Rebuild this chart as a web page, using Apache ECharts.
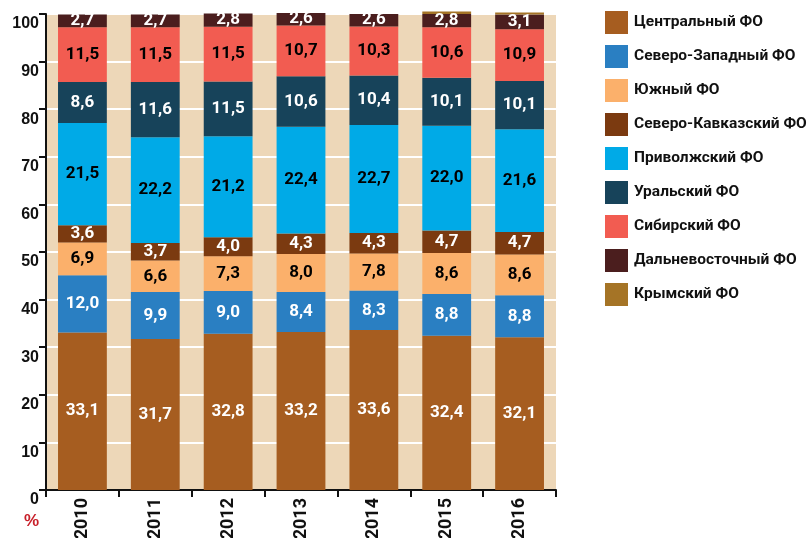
<!DOCTYPE html>
<html><head><meta charset="utf-8">
<script src="https://cdn.jsdelivr.net/npm/echarts@6/dist/echarts.min.js"></script>
<style>html,body{margin:0;padding:0;background:#fff}#c{width:811px;height:538px}</style>
</head><body><div id="c"></div>
<script>
const years = ['2010','2011','2012','2013','2014','2015','2016'];
const yTicks = [0,10,20,30,40,50,60,70,80,90,100];
const names = ['Центральный ФО','Северо-Западный ФО','Южный ФО','Северо-Кавказский ФО','Приволжский ФО','Уральский ФО','Сибирский ФО','Дальневосточный ФО','Крымский ФО'];
const central   = [33.1,31.7,32.8,33.2,33.6,32.4,32.1];
const northwest = [12.0,9.9,9.0,8.4,8.3,8.8,8.8];
const south     = [6.9,6.6,7.3,8.0,7.8,8.6,8.6];
const ncaucasus = [3.6,3.7,4.0,4.3,4.3,4.7,4.7];
const volga     = [21.5,22.2,21.2,22.4,22.7,22.0,21.6];
const ural      = [8.6,11.6,11.5,10.6,10.4,10.1,10.1];
const siberia   = [11.5,11.5,11.5,10.7,10.3,10.6,10.9];
const fareast   = [2.7,2.7,2.8,2.6,2.6,2.8,3.1];
const crimea    = [0,0,0,0,0,0.5,0.4];
const seriesData = [central,northwest,south,ncaucasus,volga,ural,siberia,fareast,crimea];
const colors = ['#A65D20','#2A7FC2','#FBB06B','#7B3A10','#00AAE7','#17435A','#F25C51','#4B1E1E','#A57426'];
const labelColors = ['#fff','#fff','#000','#fff','#000','#fff','#000','#fff','#fff'];
const NARROW = 'Roboto,"DejaVu Sans Condensed",sans-serif';

const chart = echarts.init(document.getElementById('c'), null, {renderer:'canvas'});
const series = names.map((n,i)=>({
  name:n, type:'bar', stack:'a', barWidth:'67%', clip:false,
  itemStyle:{color:colors[i]},
  data:seriesData[i],
  label:{show:i<8, position:'inside', color:labelColors[i],
    fontFamily:NARROW, fontWeight:'bold', fontSize:17,
    formatter:p=>p.value.toFixed(1).replace('.',',')}
}));
chart.setOption({
  animation:false,
  grid:{left:46,right:255,top:14,bottom:48,show:true,backgroundColor:'#EDD7B8',borderWidth:0,
    containLabel:false,outerBoundsMode:'none'},
  legend:{orient:'vertical',left:600,top:6,itemWidth:23,itemHeight:23,itemGap:11,
    icon:'rect',data:names,
    textStyle:{fontFamily:NARROW,fontWeight:'bold',fontSize:15.5,color:'#111',padding:[3,0,0,1]}},
  xAxis:{type:'category',data:years,
    axisLine:{lineStyle:{color:'#111',width:2}},
    axisTick:{show:true,length:7,lineStyle:{color:'#111',width:2},alignWithLabel:false},
    axisLabel:{rotate:90,margin:8,fontFamily:NARROW,fontWeight:'bold',fontSize:18,color:'#111'}},
  yAxis:{type:'value',min:0,max:100,interval:10,
    axisLine:{show:true,lineStyle:{color:'#111',width:2}},
    axisTick:{show:true,length:7,lineStyle:{color:'#111',width:2}},
    splitLine:{show:true,lineStyle:{color:'#fff',width:2}},
    axisLabel:{margin:7,verticalAlign:'top',padding:[2,0,0,0],fontFamily:'"Liberation Sans",Arial,sans-serif',fontWeight:'bold',fontSize:16,color:'#111',
      formatter:v=>yTicks.includes(v)?String(v):''}},
  graphic:[{type:'text',left:24,top:513,style:{text:'%',fill:'#C8202A',font:'bold 17px "Liberation Sans",Arial,sans-serif'}}],
  series
});
</script></body></html>
